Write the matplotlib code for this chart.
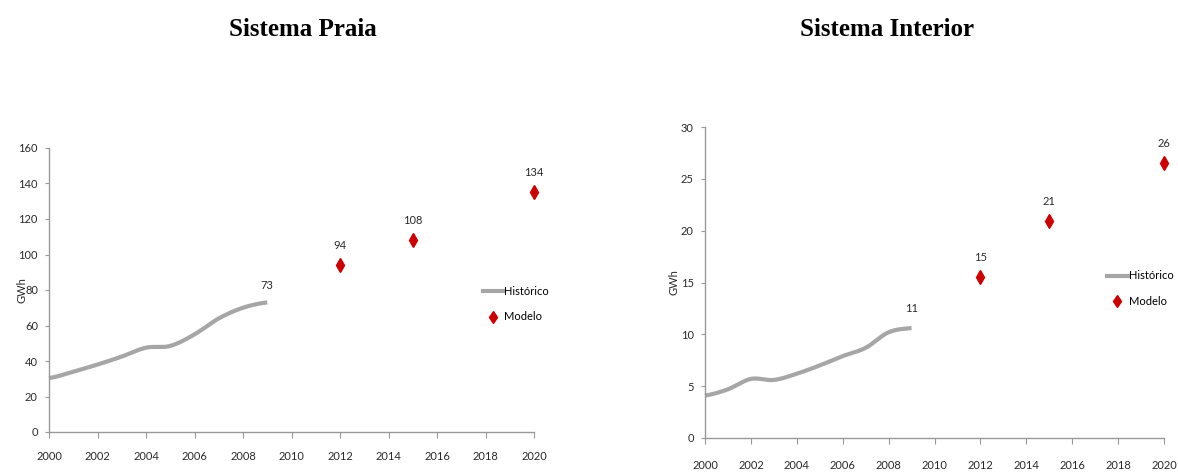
import matplotlib
matplotlib.use("Agg")
import matplotlib.pyplot as plt
import numpy as np
from matplotlib.lines import Line2D

# ---- data ----
hist_years = [2000, 2001, 2002, 2003, 2004, 2005, 2006, 2007, 2008, 2009]
praia_hist = [30.4, 34, 38, 42.5, 47.5, 48.5, 55, 64, 70, 73]
interior_hist = [4.1, 4.7, 5.7, 5.6, 6.2, 7.0, 7.9, 8.7, 10.2, 10.6]
model_years = [2012, 2015, 2020]
praia_model = [94, 108, 135]
interior_model = [15.5, 20.9, 26.5]
praia_hist_label = "73"
interior_hist_label = "11"
praia_model_labels = ["94", "108", "134"]
interior_model_labels = ["15", "21", "26"]
titles = ["Sistema Praia", "Sistema Interior"]
xticks = list(range(2000, 2021, 2))
praia_yticks = list(range(0, 161, 20))
interior_yticks = list(range(0, 31, 5))

tick_font = ["Lato", "DejaVu Sans"]
TXT = "#2a2a2a"
GREY = "#a6a6a6"
RED = "#cc0000"
FS = 8
fig = plt.figure(figsize=(11.78, 4.72), dpi=100)

def smooth(x, y, n=200):
    x = np.asarray(x, float); y = np.asarray(y, float)
    xs = np.linspace(x[0], x[-1], n)
    out = []
    for xv in xs:
        i = min(int(np.searchsorted(x, xv, side="right") - 1), len(x) - 2)
        t = (xv - x[i]) / (x[i + 1] - x[i])
        p0 = y[i - 1] if i > 0 else y[i]
        p1, p2 = y[i], y[i + 1]
        p3 = y[i + 2] if i + 2 < len(y) else y[i + 1]
        v = 0.5 * ((2 * p1) + (-p0 + p2) * t + (2 * p0 - 5 * p1 + 4 * p2 - p3) * t ** 2
                   + (-p0 + 3 * p1 - 3 * p2 + p3) * t ** 3)
        out.append(v)
    return xs, np.array(out)

def draw(ax, hist, model, hist_lbl, model_lbls, yticks, ylim, title, title_xy,
         leg_anchor, hist_off, label_off, xlab_pad, ylab_x):
    xs, ys = smooth(hist_years, hist)
    ax.plot(xs, ys, color=GREY, lw=3, solid_capstyle="butt", clip_on=False)
    ax.plot(model_years, model, linestyle="none", marker="d", markersize=7,
            color=RED, markeredgecolor=RED, clip_on=False)
    ax.annotate(hist_lbl, (hist_years[-1], hist[-1]), xytext=(0, hist_off),
                textcoords="offset points", ha="center", va="bottom",
                fontsize=FS, family=tick_font, color=TXT)
    for yr, v, l in zip(model_years, model, model_lbls):
        ax.annotate(l, (yr, v), xytext=(0, label_off), textcoords="offset points",
                    ha="center", va="bottom", fontsize=FS, family=tick_font, color=TXT)
    ax.set_xlim(2000, 2020)
    ax.set_ylim(*ylim)
    ax.set_xticks(xticks)
    ax.set_yticks(yticks)
    ax.set_xticklabels([str(t) for t in xticks], family=tick_font, fontsize=FS, color=TXT)
    ax.set_yticklabels([str(t) for t in yticks], family=tick_font, fontsize=FS, color=TXT)
    ax.tick_params(axis="x", direction="out", length=4, pad=xlab_pad, color="#999999")
    ax.tick_params(axis="y", direction="out", length=3, pad=5, color="#999999")
    for s in ["top", "right"]:
        ax.spines[s].set_visible(False)
    for s in ["left", "bottom"]:
        ax.spines[s].set_color("#999999")
        ax.spines[s].set_linewidth(1.0)
    ax.set_ylabel("GWh", family=tick_font, fontsize=FS, color=TXT)
    ax.yaxis.set_label_coords(ylab_x, 0.5)
    handles = [Line2D([0], [0], color=GREY, lw=3),
               Line2D([0], [0], linestyle="none", marker="d", markersize=6, color=RED)]
    ax.legend(handles, ["Histórico", "Modelo"], loc="center left",
              bbox_to_anchor=leg_anchor, frameon=False, handlelength=1.9,
              handletextpad=0.05, labelspacing=1.3, borderaxespad=0,
              prop={"family": tick_font, "size": FS})
    fig.text(title_xy[0], title_xy[1], title, ha="center", va="center",
             fontsize=18, fontweight="bold", family=["Liberation Serif", "DejaVu Serif"])

ax1 = fig.add_axes([49 / 1178, 1 - 432 / 472, 485 / 1178, 284 / 472])
draw(ax1, praia_hist, praia_model, praia_hist_label, praia_model_labels,
     praia_yticks, (0, 160), titles[0], (303 / 1178, 1 - 30 / 472),
     (0.885, 0.45), 8, 10, 10, -0.045)

ax2 = fig.add_axes([705 / 1178, 1 - 438 / 472, 459 / 1178, 311 / 472])
draw(ax2, interior_hist, interior_model, interior_hist_label, interior_model_labels,
     interior_yticks, (0, 30), titles[1], (887 / 1178, 1 - 30 / 472),
     (0.866, 0.48), 10, 10, 12, -0.055)

fig.savefig("out.png", dpi=100)
